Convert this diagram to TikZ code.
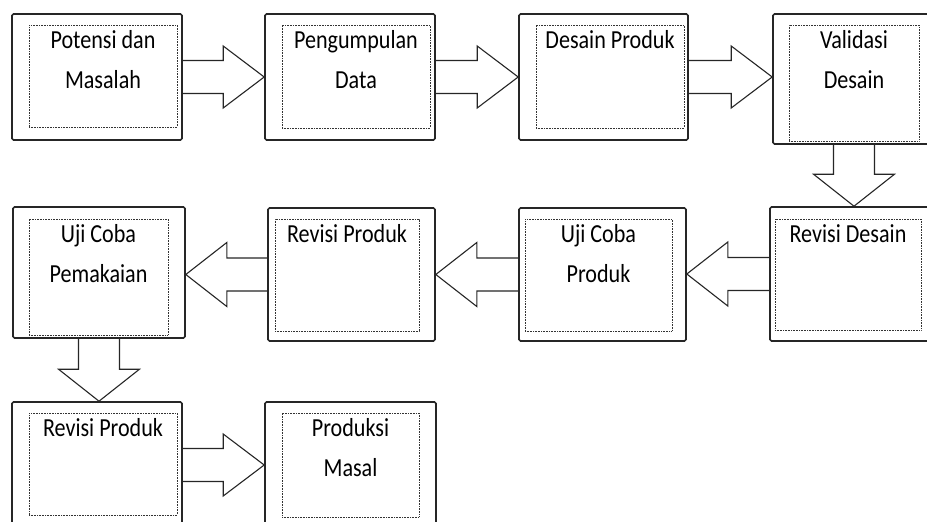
\documentclass[tikz,border=0pt]{standalone}
\usepackage{fontspec}
\newfontfamily\boxfont{Carlito}[FakeStretch=0.85]
\usetikzlibrary{fit,calc}
\pgfdeclarelayer{bg}
\pgfsetlayers{bg,main}
\tikzset{
  stepbox/.style={draw=black!85, line width=1.6pt, rounded corners=1.5pt, inner sep=0pt},
  innerbox/.style={draw=black!80, line width=0.8pt, dash pattern=on 0.8pt off 0.8pt, inner sep=0pt},
  txt/.style={font=\boxfont\fontsize{26}{40}\selectfont, align=center, inner sep=0pt, anchor=north},
  blockarrow/.style={draw=black!85, fill=white, line width=1.1pt, line join=miter},
}
\newcommand\rarr[2]{%
  \begin{pgfonlayer}{bg}
  \filldraw[blockarrow] let \p1=(#1.east), \p2=(#2.west) in
    (\x1,\y1+16.5pt) -- (\x2-41pt,\y1+16.5pt) -- (\x2-41pt,\y1+31pt) -- (\x2,\y1)
    -- (\x2-41pt,\y1-31pt) -- (\x2-41pt,\y1-16.5pt) -- (\x1,\y1-16.5pt);
  \end{pgfonlayer}}
\newcommand\larr[2]{%
  \begin{pgfonlayer}{bg}
  \filldraw[blockarrow] let \p1=(#1.west), \p2=(#2.east) in
    (\x1,\y1+16.5pt) -- (\x2+41pt,\y1+16.5pt) -- (\x2+41pt,\y1+32pt) -- (\x2,\y1)
    -- (\x2+41pt,\y1-32pt) -- (\x2+41pt,\y1-16.5pt) -- (\x1,\y1-16.5pt);
  \end{pgfonlayer}}
\newcommand\darr[2]{%
  \begin{pgfonlayer}{bg}
  \filldraw[blockarrow] let \p1=(#1.south), \p2=(#2.north) in
    (\x1-20.5pt,\y1) -- (\x1-20.5pt,\y2+32pt) -- (\x1-40.5pt,\y2+32pt) -- (\x1,\y2)
    -- (\x1+40.5pt,\y2+32pt) -- (\x1+20.5pt,\y2+32pt) -- (\x1+20.5pt,\y1);
  \end{pgfonlayer}}
\begin{document}
\begin{tikzpicture}[x=1pt, y=-1pt]
\useasboundingbox (0,0) rectangle (927,522);
\clip (0,0) rectangle (927,522);
% outer boxes
\node[stepbox, fit={(12,14) (182,140)}] (b1) {};
\node[stepbox, fit={(265,14) (435,140)}] (b2) {};
\node[stepbox, fit={(519,14) (688,140)}] (b3) {};
\node[stepbox, fit={(773,14) (935,144)}] (b4) {};
\node[stepbox, fit={(770,207) (938,341)}] (b5) {};
\node[stepbox, fit={(519,208) (686,341)}] (b6) {};
\node[stepbox, fit={(268,208) (435,341)}] (b7) {};
\node[stepbox, fit={(13,207) (185,338)}] (b8) {};
\node[stepbox, fit={(12,402) (182,528)}] (b9) {};
\node[stepbox, fit={(265,402) (436,528)}] (b10) {};
% inner dotted boxes
\node[innerbox, fit={(29,25) (177,127)}] (i1) {};
\node[innerbox, fit={(282,25) (430,128)}] (i2) {};
\node[innerbox, fit={(536,25) (684,128)}] (i3) {};
\node[innerbox, fit={(789,25) (919,141)}] (i4) {};
\node[innerbox, fit={(775,219) (921,330)}] (i5) {};
\node[innerbox, fit={(525,219) (672,331)}] (i6) {};
\node[innerbox, fit={(275,219) (419,331)}] (i7) {};
\node[innerbox, fit={(29,219) (168,335)}] (i8) {};
\node[innerbox, fit={(29,413) (177,515)}] (i9) {};
\node[innerbox, fit={(282,413) (419,517)}] (i10) {};
% texts
\node[txt] (t1) at ($(i1.north)+(0,4)$) {\rule{0pt}{20pt}Potensi dan\\Masalah};
\node[txt] (t2) at ($(i2.north)+(0,4)$) {\rule{0pt}{20pt}Pengumpulan\\Data};
\node[txt] (t3) at ($(i3.north)+(0,4)$) {\rule{0pt}{20pt}Desain Produk};
\node[txt] (t4) at ($(i4.north)+(0,4)$) {\rule{0pt}{20pt}Validasi\\Desain};
\node[txt] (t5) at ($(i5.north)+(0,4)$) {\rule{0pt}{20pt}Revisi Desain};
\node[txt] (t6) at ($(i6.north)+(0,4)$) {\rule{0pt}{20pt}Uji Coba\\Produk};
\node[txt] (t7) at ($(i7.north)+(0,4)$) {\rule{0pt}{20pt}Revisi Produk};
\node[txt] (t8) at ($(i8.north)+(0,4)$) {\rule{0pt}{20pt}Uji Coba\\Pemakaian};
\node[txt] (t9) at ($(i9.north)+(0,4)$) {\rule{0pt}{20pt}Revisi Produk};
\node[txt] (t10) at ($(i10.north)+(0,4)$) {\rule{0pt}{20pt}Produksi\\Masal};
% block arrows
\rarr{b1}{b2}
\rarr{b2}{b3}
\rarr{b3}{b4}
\darr{b4}{b5}
\larr{b5}{b6}
\larr{b6}{b7}
\larr{b7}{b8}
\darr{b8}{b9}
\rarr{b9}{b10}
\end{tikzpicture}
\end{document}
